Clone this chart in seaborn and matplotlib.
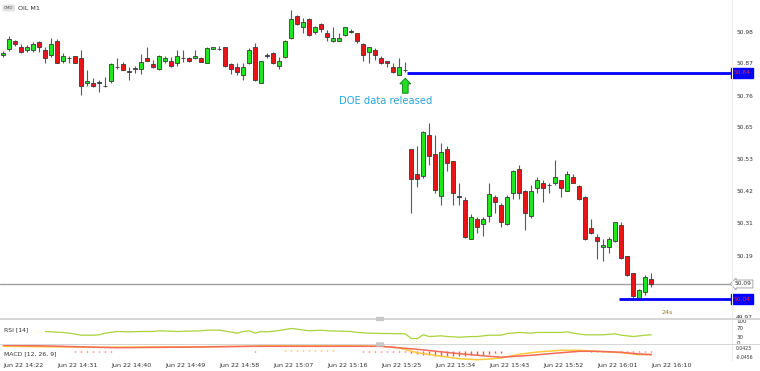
import matplotlib
matplotlib.use("Agg")
import matplotlib.pyplot as plt
import matplotlib.transforms as mtransforms
from matplotlib.patches import Rectangle, FancyBboxPatch
import numpy as np
import pandas as pd
import seaborn as sns

# ---------------- data ----------------
opens = [50.897, 50.918, 50.946, 50.925, 50.916, 50.917, 50.944, 50.916, 50.897, 50.946,
         50.876, 50.886, 50.896, 50.886, 50.798, 50.798, 50.800, 50.789, 50.807, 50.855,
         50.866, 50.839, 50.848, 50.848, 50.886, 50.866, 50.848, 50.877, 50.877, 50.869,
         50.886, 50.886, 50.886, 50.886, 50.869, 50.919, 50.919, 50.925, 50.866, 50.857,
         50.827, 50.869, 50.925, 50.798, 50.895, 50.906, 50.859, 50.890, 50.957, 51.037,
         50.998, 51.025, 50.978, 51.007, 50.975, 50.948, 50.948, 50.969, 50.984, 50.975,
         50.937, 50.908, 50.916, 50.886, 50.877, 50.857, 50.827, 50.845, 50.565, 50.478,
         50.471, 50.616, 50.548, 50.401, 50.565, 50.525, 50.398, 50.387, 50.249, 50.319,
         50.301, 50.330, 50.398, 50.369, 50.301, 50.410, 50.496, 50.418, 50.330, 50.428,
         50.446, 50.438, 50.448, 50.457, 50.419, 50.467, 50.436, 50.398, 50.289, 50.257,
         50.220, 50.220, 50.240, 50.298, 50.187, 50.128, 50.040, 50.061, 50.108]
highs = [50.913, 50.965, 50.951, 50.937, 50.932, 50.945, 50.948, 50.927, 50.957, 50.953,
         50.904, 50.895, 50.896, 50.916, 50.845, 50.816, 50.810, 50.822, 50.871, 50.886,
         50.874, 50.857, 50.859, 50.900, 50.927, 50.880, 50.898, 50.895, 50.892, 50.916,
         50.916, 50.890, 50.916, 50.890, 50.927, 50.926, 50.930, 50.927, 50.871, 50.871,
         50.869, 50.922, 50.939, 50.877, 50.906, 50.910, 50.890, 50.951, 51.057, 51.039,
         51.027, 51.027, 51.000, 51.010, 50.986, 50.998, 50.975, 50.998, 50.989, 50.975,
         50.939, 50.927, 50.922, 50.895, 50.877, 50.869, 50.886, 50.874, 50.565, 50.577,
         50.631, 50.657, 50.616, 50.587, 50.577, 50.525, 50.448, 50.396, 50.337, 50.328,
         50.328, 50.448, 50.404, 50.375, 50.404, 50.492, 50.510, 50.422, 50.440, 50.469,
         50.457, 50.448, 50.528, 50.457, 50.489, 50.477, 50.440, 50.401, 50.319, 50.267,
         50.248, 50.255, 50.310, 50.308, 50.189, 50.130, 50.072, 50.122, 50.128]
lows = [50.890, 50.913, 50.930, 50.904, 50.909, 50.910, 50.909, 50.869, 50.892, 50.869,
        50.869, 50.869, 50.869, 50.757, 50.789, 50.784, 50.769, 50.784, 50.798, 50.848,
        50.845, 50.810, 50.836, 50.831, 50.877, 50.851, 50.845, 50.869, 50.857, 50.859,
        50.874, 50.874, 50.883, 50.872, 50.869, 50.918, 50.916, 50.857, 50.831, 50.827,
        50.810, 50.866, 50.807, 50.798, 50.886, 50.866, 50.848, 50.886, 50.953, 51.004,
        50.977, 50.965, 50.972, 50.980, 50.948, 50.945, 50.946, 50.965, 50.975, 50.939,
        50.878, 50.869, 50.880, 50.866, 50.857, 50.836, 50.827, 50.839, 50.340, 50.431,
        50.463, 50.510, 50.410, 50.369, 50.490, 50.369, 50.369, 50.252, 50.249, 50.271,
        50.260, 50.307, 50.340, 50.290, 50.299, 50.389, 50.389, 50.281, 50.322, 50.412,
        50.381, 50.410, 50.440, 50.398, 50.419, 50.446, 50.387, 50.246, 50.267, 50.177,
        50.171, 50.201, 50.237, 50.179, 50.118, 50.034, 50.034, 50.051, 50.081]
closes = [50.906, 50.955, 50.938, 50.908, 50.925, 50.936, 50.927, 50.889, 50.937, 50.869,
          50.895, 50.886, 50.869, 50.789, 50.806, 50.789, 50.800, 50.789, 50.866, 50.855,
          50.845, 50.839, 50.853, 50.874, 50.877, 50.857, 50.895, 50.886, 50.859, 50.895,
          50.886, 50.877, 50.895, 50.874, 50.924, 50.925, 50.919, 50.859, 50.848, 50.837,
          50.855, 50.916, 50.810, 50.877, 50.895, 50.869, 50.877, 50.946, 51.025, 51.007,
          51.015, 50.969, 50.996, 50.989, 50.960, 50.957, 50.957, 50.996, 50.978, 50.947,
          50.898, 50.925, 50.898, 50.869, 50.869, 50.839, 50.857, 50.845, 50.460, 50.460,
          50.628, 50.542, 50.422, 50.557, 50.518, 50.410, 50.398, 50.257, 50.328, 50.290,
          50.319, 50.407, 50.379, 50.307, 50.398, 50.489, 50.410, 50.340, 50.418, 50.457,
          50.428, 50.438, 50.467, 50.428, 50.477, 50.448, 50.389, 50.248, 50.271, 50.240,
          50.228, 50.248, 50.308, 50.181, 50.120, 50.049, 50.069, 50.116, 50.090]

time_tick_candles = [1, 10, 19, 28, 37, 46, 55, 64, 73, 82, 91, 100, 109]
time_tick_labels = ["Jun 22 14:22", "Jun 22 14:31", "Jun 22 14:40", "Jun 22 14:49",
                    "Jun 22 14:58", "Jun 22 15:07", "Jun 22 15:16", "Jun 22 15:25",
                    "Jun 22 15:34", "Jun 22 15:43", "Jun 22 15:52", "Jun 22 16:01",
                    "Jun 22 16:10"]

price_tick_values = [50.980, 50.869, 50.755, 50.645, 50.531, 50.418, 50.304, 50.190, 49.975]
price_tick_labels = ["50.98", "50.87", "50.76", "50.65", "50.53", "50.42", "50.31", "50.19", "49.97"]

doe_level = 50.835
doe_label = "50.84"
doe_candle = 68
low_level = 50.037
low_label = "50.04"
low_start = 103.6
last_price = 50.090
last_label = "50.09"

rsi_candles = [8, 9, 11, 12, 14, 16, 17, 18, 20, 22, 24, 26, 27, 30, 32, 34, 35, 37, 40, 41,
               42, 43, 44, 45, 47, 49, 50, 52, 54, 55, 57, 59, 60, 62, 64, 65, 68, 69, 70, 71,
               72, 74, 75, 77, 79, 80, 82, 83, 84, 85, 87, 89, 90, 92, 94, 95, 96, 98, 99, 101,
               103, 104, 106, 108, 109]
rsi_values = [52.4, 50.9, 48.0, 45.0, 36.0, 36.0, 37.6, 45.0, 52.4, 50.9, 52.4, 52.4, 55.4, 52.4,
              54.0, 55.4, 58.4, 58.4, 45.0, 52.4, 55.4, 45.0, 52.4, 50.9, 56.9, 65.8, 62.8, 55.4,
              58.4, 55.4, 54.0, 52.4, 48.0, 45.0, 43.5, 43.5, 42.0, 21.0, 21.0, 37.6, 30.0, 33.0,
              30.0, 27.0, 30.0, 30.0, 36.0, 36.0, 36.0, 43.5, 48.0, 45.0, 48.0, 48.0, 48.0, 50.9,
              45.0, 37.6, 37.6, 37.6, 42.0, 36.0, 30.0, 36.0, 37.6]

signal_candles = [1, 9, 17, 20, 34, 42, 59, 64, 70, 77, 82, 84, 89, 94, 97, 100, 104, 107, 109]
signal_values = [0.0454, 0.0400, 0.0305, 0.0276, 0.0328, 0.0380, 0.0380, 0.0380, 0.0156, -0.0171,
                 -0.0365, -0.0432, -0.0291, -0.0097, 0.0007, 0.0007, -0.0067, -0.0194, -0.0246]
macd_candles = [1, 17, 34, 42, 47, 55, 64, 67, 70, 74, 77, 80, 82, 84, 87, 90, 94, 97, 100, 104, 107, 109]
macd_values = [0.0380, 0.0305, 0.0350, 0.0380, 0.0454, 0.0454, 0.0380, 0.0253, -0.0097, -0.0365,
               -0.0544, -0.0618, -0.0566, -0.0490, -0.0216, -0.0045, 0.0082, 0.0082, 0.0007,
               -0.0097, -0.0246, -0.0216]
hist_values = [0, 0, 0, 0, 0, 0, 0, 0, 0, 0, 0, 0,
               -0.004, -0.004, -0.004, -0.004, -0.004, -0.004, -0.004,
               0, 0, 0,
               0.003, 0.003, 0.003, 0.003, 0.003, 0.003, 0.003, 0.003, 0.003, 0.003, 0.003, 0.003,
               0.003, 0.003, 0.003, 0.003, 0.003,
               0, 0, 0, -0.003, 0, 0, 0, 0,
               0.007, 0.007, 0.007, 0.007, 0.007, 0.007, 0.007, 0.007, 0.007,
               0, 0, 0, 0,
               -0.004, -0.004, -0.004, -0.004, -0.004, -0.004, -0.004, -0.006,
               -0.015, -0.022, -0.026, -0.030, -0.032, -0.033, -0.034, -0.034, -0.033, -0.032,
               -0.030, -0.028, -0.025, -0.020, -0.015, -0.010,
               0.004, 0.004, 0.004, 0.004, 0.004, 0.004, 0.004, 0.004, 0.004, 0.004, 0.004,
               0.004, 0.004, 0.004,
               -0.004, -0.004, -0.004, -0.004, -0.004, -0.004, -0.004, -0.004, -0.004, -0.004,
               -0.004]
rsi_ticks = [100, 70, 30, 0]
macd_tick_values = [0.028, -0.0454]
macd_tick_labels = ["0.0423", "-0.0456"]

# ---------------- styling ----------------
sns.set_theme(style="white")
plt.rcParams["font.family"] = ["DejaVu Sans"]

W, H = 760, 371
fig = plt.figure(figsize=(W / 100, H / 100), dpi=100)
fig.patch.set_facecolor("white")


def fx(px):
    return px / W


def fy(py):
    return 1 - py / H


PLOT_R = 731.7
XMIN, XMAX = 0.45, 122.4
TXT = "#333333"
LAB = 4.2

ax = fig.add_axes([0, fy(318), fx(PLOT_R), 318 / H])
ax_rsi = fig.add_axes([0, fy(343.5), fx(PLOT_R), 24 / H])
ax_macd = fig.add_axes([0, fy(360.5), fx(PLOT_R), 16 / H])

for a in (ax, ax_rsi, ax_macd):
    a.set_facecolor("white")
    for s in a.spines.values():
        s.set_visible(False)
    a.set_xlim(XMIN, XMAX)
    a.yaxis.tick_right()
    a.tick_params(axis="y", length=0, pad=3.2, labelsize=LAB, labelcolor=TXT)
    a.grid(False)

df = pd.DataFrame({"o": opens, "h": highs, "l": lows, "c": closes})
df["x"] = np.arange(1, len(df) + 1)
df["bottom"] = df[["o", "c"]].min(axis=1)
df["height"] = (df["c"] - df["o"]).abs().clip(lower=0.0012)
df["color"] = np.where(df["c"] > df["o"], "#1fe61f",
                       np.where(df["c"] < df["o"], "#ea1414", "#555555"))

ax.vlines(df["x"], df["l"], df["h"], color="#5a5a5a", lw=0.8, zorder=2)
ax.bar(df["x"], df["height"], bottom=df["bottom"], width=0.72, color=df["color"],
       edgecolor="#3a3a3a", linewidth=0.6, zorder=3)

ax.set_ylim(49.970, 51.092)
ax.set_yticks(price_tick_values)
ax.set_yticklabels(price_tick_labels)
ax.set_xticks([])

# price lines
ax.axhline(last_price, color="#a0a0a0", lw=1.0, zorder=1)
ax.hlines(doe_level, doe_candle + 0.3, XMAX, color="#0000ff", lw=2.0, zorder=4)
ax.hlines(low_level, low_start, XMAX, color="#0000ff", lw=2.0, zorder=4)

btr = mtransforms.blended_transform_factory(ax.transAxes, ax.transData)
for lvl, lab in ((doe_level, doe_label), (low_level, low_label)):
    ax.text(741.8 / PLOT_R, lvl, lab, transform=btr, ha="center", va="center",
            fontsize=LAB, color="#ff2020", clip_on=False, zorder=6,
            bbox=dict(boxstyle="square,pad=0.45", fc="#0000ff", ec="#0000ff"))
ax.text(743.0 / PLOT_R, last_price, last_label, transform=btr, ha="center", va="center",
        fontsize=LAB, color=TXT, clip_on=False, zorder=6,
        bbox=dict(boxstyle="larrow,pad=0.25", fc="white", ec="#9a9a9a", lw=0.6))

# DOE arrow and text
ax.arrow(doe_candle, 50.763, 0, 50.816 - 50.763 - 0.020, width=0.95, head_width=1.85,
         head_length=0.020, length_includes_head=False, fc="#22dd22", ec="#0b7f0b",
         lw=0.6, zorder=5)
ax.text(64.7, 50.734, "DOE data released", ha="center", va="center", fontsize=7.2,
        color="#2ba6e0", zorder=5)

# RSI panel
sns.lineplot(x=rsi_candles, y=rsi_values, ax=ax_rsi, color="#a9d23c", lw=0.9)
ax_rsi.set_ylim(-1.0, 105.7)
ax_rsi.set_yticks(rsi_ticks)
ax_rsi.set_yticklabels([str(v) for v in rsi_ticks])
ax_rsi.tick_params(axis="y", labelsize=4.0)
ax_rsi.set_xticks([])
ax_rsi.set_xlabel("")
ax_rsi.set_ylabel("")
ax_rsi.text(4 / PLOT_R, 0.55, "RSI [14]", transform=ax_rsi.transAxes, fontsize=4.4,
            color=TXT, va="center", ha="left")

# MACD panel
hx = np.arange(1, len(hist_values) + 1)
hv = np.array(hist_values)
mask = hv != 0
hcol = np.where(hv > 0, "#ffa826", "#ff5050")
ax_macd.vlines(hx[mask], 0, hv[mask], colors=hcol[mask], lw=1.0, zorder=2)
sns.lineplot(x=macd_candles, y=macd_values, ax=ax_macd, color="#ffc83a", lw=1.1)
sns.lineplot(x=signal_candles, y=signal_values, ax=ax_macd, color="#f26a5a", lw=1.1)
ax_macd.set_ylim(-0.0678, 0.0514)
ax_macd.set_yticks(macd_tick_values)
ax_macd.set_yticklabels(macd_tick_labels)
ax_macd.tick_params(axis="y", labelsize=3.3)
ax_macd.set_ylabel("")
ax_macd.set_xticks(time_tick_candles)
ax_macd.set_xticklabels(time_tick_labels, ha="left")
ax_macd.tick_params(axis="x", length=0, pad=1.6, labelsize=4.6, labelcolor=TXT)
ax_macd.set_xlim(XMIN, XMAX)
ax_macd.text(4 / PLOT_R, 0.4, "MACD [12, 26, 9]", transform=ax_macd.transAxes,
             fontsize=4.4, color=TXT, va="center", ha="left")

# separators and decorations
for y0, y1 in ((318.0, 320.0), (343.5, 345.3)):
    fig.patches.append(Rectangle((0, fy(y1)), fx(PLOT_R + 28), (y1 - y0) / H,
                                 transform=fig.transFigure, fc="#d6d6d6", ec="none", zorder=5))
    fig.patches.append(FancyBboxPatch((fx(376), fy(y1 + 1.2)), fx(8), (y1 - y0 + 2.4) / H,
                                      boxstyle="round,pad=0.0", transform=fig.transFigure,
                                      fc="#c8c8c8", ec="none", zorder=6))
fig.lines.append(plt.Line2D([fx(PLOT_R), fx(PLOT_R)], [fy(360), fy(0)],
                            transform=fig.transFigure, color="#ececec", lw=0.8))

fig.patches.append(FancyBboxPatch((fx(2.5), fy(11.5)), fx(12.5), 7 / H,
                                  boxstyle="round,pad=0.0,rounding_size=0.003",
                                  transform=fig.transFigure, fc="#e2e2e2", ec="none"))
fig.text(fx(8.8), fy(8), "CMD", fontsize=3.0, color="#555555", ha="center", va="center")
fig.text(fx(17.5), fy(8), "OIL M1", fontsize=4.6, color=TXT, ha="left", va="center")
fig.text(fx(662), fy(313), "24s", fontsize=4.6, color="#8c7b35", ha="left", va="center")

fig.savefig("out.png", dpi=100, facecolor="white")
